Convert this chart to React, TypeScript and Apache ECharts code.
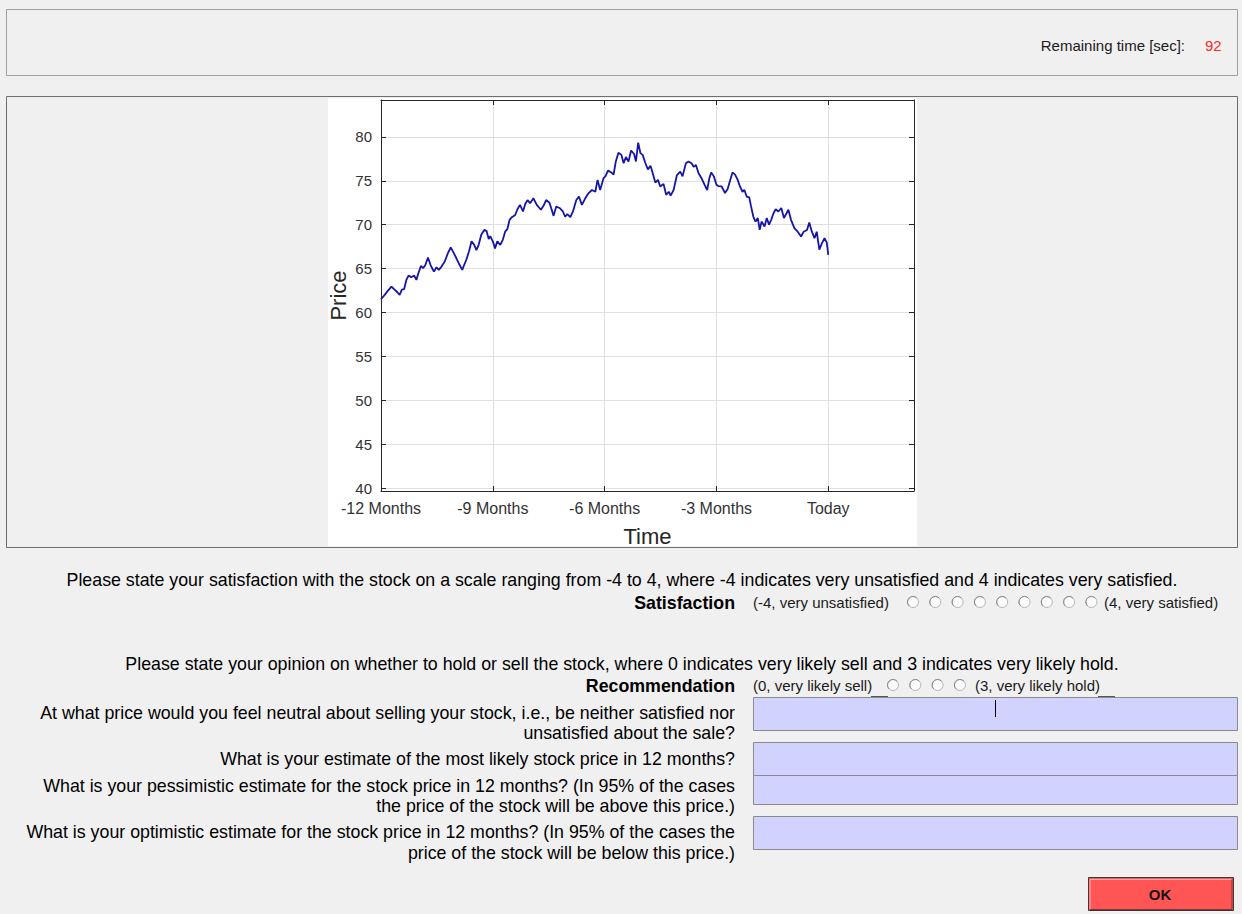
import React, { useEffect, useRef } from "react";
import * as echarts from "echarts";

// ---- data ----
const months = [
  -12.0, -11.9, -11.83, -11.72, -11.65, -11.56, -11.5, -11.44, -11.38, -11.32, -11.26, -11.19, -11.11, -11.05, -11.01,
  -10.93, -10.87, -10.81, -10.74, -10.67, -10.58, -10.51, -10.45, -10.38, -10.29, -10.2, -10.13, -10.07, -9.98, -9.89,
  -9.82, -9.77, -9.71, -9.64, -9.57, -9.5, -9.44, -9.38, -9.31, -9.23, -9.17, -9.11, -9.07, -9.0, -8.94, -8.88, -8.8,
  -8.73, -8.67, -8.61, -8.55, -8.49, -8.4, -8.34, -8.27, -8.19, -8.13, -8.07, -8.0, -7.91, -7.82, -7.71, -7.64, -7.57,
  -7.48, -7.42, -7.37, -7.3, -7.21, -7.12, -7.06, -7.0, -6.92, -6.85, -6.76, -6.69, -6.61, -6.52, -6.43, -6.34, -6.25,
  -6.19, -6.12, -6.03, -5.98, -5.91, -5.82, -5.76, -5.7, -5.63, -5.55, -5.49, -5.43, -5.36, -5.29, -5.21, -5.16, -5.1,
  -5.04, -4.98, -4.91, -4.84, -4.77, -4.71, -4.64, -4.57, -4.51, -4.42, -4.35, -4.28, -4.23, -4.15, -4.06, -3.97, -3.91,
  -3.82, -3.75, -3.67, -3.61, -3.55, -3.48, -3.39, -3.32, -3.25, -3.19, -3.14, -3.07, -3.0, -2.95, -2.86, -2.77, -2.7,
  -2.63, -2.57, -2.5, -2.43, -2.37, -2.3, -2.25, -2.19, -2.12, -2.07, -2.01, -1.95, -1.89, -1.84, -1.79, -1.71, -1.65,
  -1.59, -1.53, -1.47, -1.41, -1.34, -1.26, -1.19, -1.12, -1.07, -1.0, -0.91, -0.82, -0.73, -0.66, -0.57, -0.51, -0.44,
  -0.37, -0.31, -0.24, -0.17, -0.1, -0.04, 0.0,
];
const prices = [
  61.5, 62.0, 62.4, 62.95, 62.65, 62.3, 62.0, 62.6, 62.65, 63.7, 64.2, 64.0, 64.2, 63.7, 64.3,
  65.3, 65.05, 65.4, 66.25, 65.4, 64.65, 65.15, 64.85, 65.2, 65.8, 66.8, 67.4, 66.95, 66.2, 65.4,
  64.85, 65.4, 66.0, 66.95, 68.1, 67.7, 67.1, 67.7, 68.85, 69.4, 69.3, 68.35, 68.7, 68.1, 67.3, 68.1, 67.7,
  68.3, 69.2, 69.5, 70.55, 70.85, 71.1, 71.75, 72.25, 71.5, 72.35, 72.8, 72.45, 73.0, 72.25, 71.7, 72.15, 72.8,
  72.5, 71.7, 71.0, 72.05, 71.9, 71.5, 70.9, 71.2, 70.85, 71.5, 72.8, 73.2, 72.25, 73.0, 73.6, 73.95, 73.75,
  75.1, 73.95, 75.3, 75.5, 76.15, 75.95, 75.7, 77.2, 78.2, 77.95, 77.0, 77.7, 77.2, 78.45, 78.05, 77.2, 79.35,
  78.15, 77.95, 77.05, 76.3, 76.7, 75.85, 74.8, 75.1, 74.35, 74.65, 73.4, 73.75, 73.3, 73.95, 75.65, 76.05, 75.5,
  77.0, 77.2, 77.0, 76.6, 76.8, 75.85, 75.2, 74.55, 73.95, 75.3, 75.95, 75.5, 74.55, 74.4, 74.35, 73.6, 74.05,
  75.1, 75.95, 75.7, 75.1, 74.35, 73.75, 73.95, 73.2, 73.1, 72.05, 70.9, 70.35, 70.75, 69.4, 70.35, 69.8, 70.75,
  70.0, 70.55, 71.3, 71.75, 71.5, 71.9, 70.75, 71.3, 71.7, 70.55, 69.6, 69.2, 68.65, 69.2, 69.4, 70.25, 69.2,
  68.45, 69.2, 67.15, 67.9, 68.45, 67.95, 66.55,
];
const xTicks = [-12, -9, -6, -3, 0];
const xTickLabels = ["-12 Months", "-9 Months", "-6 Months", "-3 Months", "Today"];
const xMin = -12;
const xMax = 2.3;
const yMin = 39.66;
const yMax = 84.2;

const satisfactionOptions = 9;
const recommendationOptions = 4;

const FONT = "'Liberation Sans', Arial, Helvetica, sans-serif";
const Q = 17.8; // question text size
const S = 15; // small radio caption size

function txt(text: string, x: number, y: number, size: number, align: string, extra: any = {}) {
  return {
    type: "text",
    z: 5,
    style: {
      text,
      x,
      y,
      font: `${extra.bold ? "bold " : ""}${size}px ${FONT}`,
      fill: extra.fill || "#000",
      textAlign: align,
      align,
      textVerticalAlign: "middle",
      verticalAlign: "middle",
    },
  };
}

function radio(cx: number, cy: number) {
  return [
    { type: "circle", z: 5, shape: { cx, cy, r: 5.5 }, style: { fill: "#fbfbfb", stroke: "#b4b4b4", lineWidth: 1 } },
    {
      type: "arc",
      z: 6,
      shape: { cx, cy, r: 5.5, startAngle: Math.PI * 0.75, endAngle: Math.PI * 1.75 },
      style: { stroke: "#8a8a8a", lineWidth: 1, fill: "none" },
    },
  ];
}

export default function App() {
  const ref = useRef<HTMLDivElement>(null);
  useEffect(() => {
    if (!ref.current) return;
    const chart = echarts.init(ref.current, undefined, { renderer: "svg" });
    const data = months.map((m, i) => [m, prices[i]]);

    const graphics: any[] = [
      // top panel
      { type: "rect", z: 1, shape: { x: 6.5, y: 9.5, width: 1231, height: 66 }, style: { fill: "#f0f0f0", stroke: "#a0a0a0", lineWidth: 1 } },
      // chart panel
      { type: "rect", z: -2, shape: { x: 6.5, y: 96.5, width: 1231, height: 451 }, style: { fill: "#f0f0f0", stroke: "#6e6e6e", lineWidth: 1 } },
      // white figure area
      { type: "rect", z: -1, shape: { x: 328, y: 98, width: 589, height: 448 }, style: { fill: "#ffffff" } },
      txt("Remaining time [sec]:", 1185, 45, 15, "right", { fill: "#1a1a1a" }),
      txt("92", 1205, 45, 15, "left", { fill: "#ff2a2a" }),
      txt(
        "Please state your satisfaction with the stock on a scale ranging from -4 to 4, where -4 indicates very unsatisfied and 4 indicates very satisfied.",
        622, 580, Q, "center"
      ),
      txt("Satisfaction", 735, 603, Q, "right", { bold: true }),
      txt("(-4, very unsatisfied)", 753, 602, S, "left", { fill: "#1a1a1a" }),
      txt("(4, very satisfied)", 1104, 602, S, "left", { fill: "#1a1a1a" }),
      txt(
        "Please state your opinion on whether to hold or sell the stock, where 0 indicates very likely sell and 3 indicates very likely hold.",
        622, 664, Q, "center"
      ),
      txt("Recommendation", 735, 686, Q, "right", { bold: true }),
      txt("(0, very likely sell)", 753, 685, S, "left", { fill: "#1a1a1a" }),
      txt("(3, very likely hold)", 975, 685, S, "left", { fill: "#1a1a1a" }),
      { type: "line", z: 5, shape: { x1: 871, y1: 696.5, x2: 888, y2: 696.5 }, style: { stroke: "#555", lineWidth: 1 } },
      { type: "line", z: 5, shape: { x1: 1098, y1: 696.5, x2: 1115, y2: 696.5 }, style: { stroke: "#555", lineWidth: 1 } },
      // input boxes
      { type: "rect", z: 3, shape: { x: 753.5, y: 697.5, width: 484, height: 33 }, style: { fill: "#d2d2ff", stroke: "#8a8a8a", lineWidth: 1 } },
      { type: "rect", z: 3, shape: { x: 753.5, y: 742.5, width: 484, height: 33 }, style: { fill: "#d2d2ff", stroke: "#8a8a8a", lineWidth: 1 } },
      { type: "rect", z: 3, shape: { x: 753.5, y: 775.5, width: 484, height: 29 }, style: { fill: "#d2d2ff", stroke: "#8a8a8a", lineWidth: 1 } },
      { type: "rect", z: 3, shape: { x: 753.5, y: 816.5, width: 484, height: 33 }, style: { fill: "#d2d2ff", stroke: "#8a8a8a", lineWidth: 1 } },
      { type: "line", z: 5, shape: { x1: 995.5, y1: 700, x2: 995.5, y2: 717 }, style: { stroke: "#000", lineWidth: 1 } },
      txt("At what price would you feel neutral about selling your stock, i.e., be neither satisfied nor", 735, 713, Q, "right"),
      txt("unsatisfied about the sale?", 735, 733, Q, "right"),
      txt("What is your estimate of the most likely stock price in 12 months?", 735, 759, Q, "right"),
      txt("What is your pessimistic estimate for the stock price in 12 months? (In 95% of the cases", 735, 786, Q, "right"),
      txt("the price of the stock will be above this price.)", 735, 806, Q, "right"),
      txt("What is your optimistic estimate for the stock price in 12 months? (In 95% of the cases the", 735, 832, Q, "right"),
      txt("price of the stock will be below this price.)", 735, 853, Q, "right"),
      // OK button
      { type: "rect", z: 3, shape: { x: 1088.5, y: 877.5, width: 145, height: 33 }, style: { fill: "#ff5555", stroke: "#3a3a3a", lineWidth: 1 } },
      { type: "polyline", z: 4, shape: { points: [[1090, 909], [1090, 879.5], [1232, 879.5]] }, style: { stroke: "#ffb0b0", lineWidth: 1, fill: "none" } },
      { type: "polyline", z: 4, shape: { points: [[1090, 909.5], [1232, 909.5], [1232, 879]] }, style: { stroke: "#8a3030", lineWidth: 1, fill: "none" } },
      txt("OK", 1160, 894, 15, "center", { bold: true, fill: "#141414" }),
    ];
    for (let i = 0; i < satisfactionOptions; i++) graphics.push(...radio(913 + i * 22.3, 602));
    for (let i = 0; i < recommendationOptions; i++) graphics.push(...radio(893 + i * 22.3, 685));

    const axisColor = "#262626";
    const labelFormatter = (v: number) => {
      const idx = xTicks.indexOf(Math.round(v * 100) / 100);
      return idx >= 0 ? xTickLabels[idx] : "";
    };

    chart.setOption({
      animation: false,
      backgroundColor: "#f0f0f0",
      textStyle: { fontFamily: FONT },
      graphic: graphics,
      grid: { left: 381, top: 100, width: 533, height: 391, containLabel: false, outerBoundsMode: "none" },
      xAxis: [
        {
          type: "value",
          min: xMin,
          max: xMax,
          interval: 3,
          position: "bottom",
          axisLine: { show: true, onZero: false, lineStyle: { color: axisColor, width: 1 } },
          axisTick: { show: true, inside: true, length: 5, lineStyle: { color: axisColor } },
          axisLabel: { formatter: labelFormatter, color: "#333", fontSize: 16, fontFamily: FONT, margin: 9, showMaxLabel: false },
          splitLine: { show: true, lineStyle: { color: "#dfdfdf", width: 1 } },
          name: "Time",
          nameLocation: "middle",
          nameGap: 34,
          nameTextStyle: { fontSize: 22, color: axisColor, fontFamily: FONT },
        },
        {
          type: "value",
          min: xMin,
          max: xMax,
          interval: 3,
          position: "top",
          axisLine: { show: true, onZero: false, lineStyle: { color: axisColor, width: 1 } },
          axisTick: { show: true, inside: true, length: 5, lineStyle: { color: axisColor } },
          axisLabel: { show: false },
          splitLine: { show: false },
        },
      ],
      yAxis: [
        {
          type: "value",
          min: yMin,
          max: yMax,
          minInterval: 5,
          maxInterval: 5,
          splitNumber: 9,
          position: "left",
          axisLine: { show: true, onZero: false, lineStyle: { color: axisColor, width: 1 } },
          axisTick: { show: true, inside: true, length: 5, lineStyle: { color: axisColor } },
          axisLabel: { color: "#333", fontSize: 15, fontFamily: FONT, margin: 9, showMinLabel: false, showMaxLabel: false },
          splitLine: { show: true, lineStyle: { color: "#dfdfdf", width: 1 } },
          name: "Price",
          nameLocation: "middle",
          nameGap: 32,
          nameTextStyle: { fontSize: 22, color: axisColor, fontFamily: FONT },
        },
        {
          type: "value",
          min: yMin,
          max: yMax,
          minInterval: 5,
          maxInterval: 5,
          splitNumber: 9,
          position: "right",
          axisLine: { show: true, onZero: false, lineStyle: { color: axisColor, width: 1 } },
          axisTick: { show: true, inside: true, length: 5, lineStyle: { color: axisColor } },
          axisLabel: { show: false },
          splitLine: { show: false },
        },
      ],
      series: [
        {
          type: "line",
          xAxisIndex: 0,
          yAxisIndex: 0,
          data,
          showSymbol: false,
          symbol: "none",
          lineStyle: { color: "#1515a8", width: 1.8 },
          z: 3,
        },
      ],
    });
    return () => chart.dispose();
  }, []);

  return <div ref={ref} style={{ position: "absolute", left: 0, top: 0, width: 1242, height: 914 }} />;
}
